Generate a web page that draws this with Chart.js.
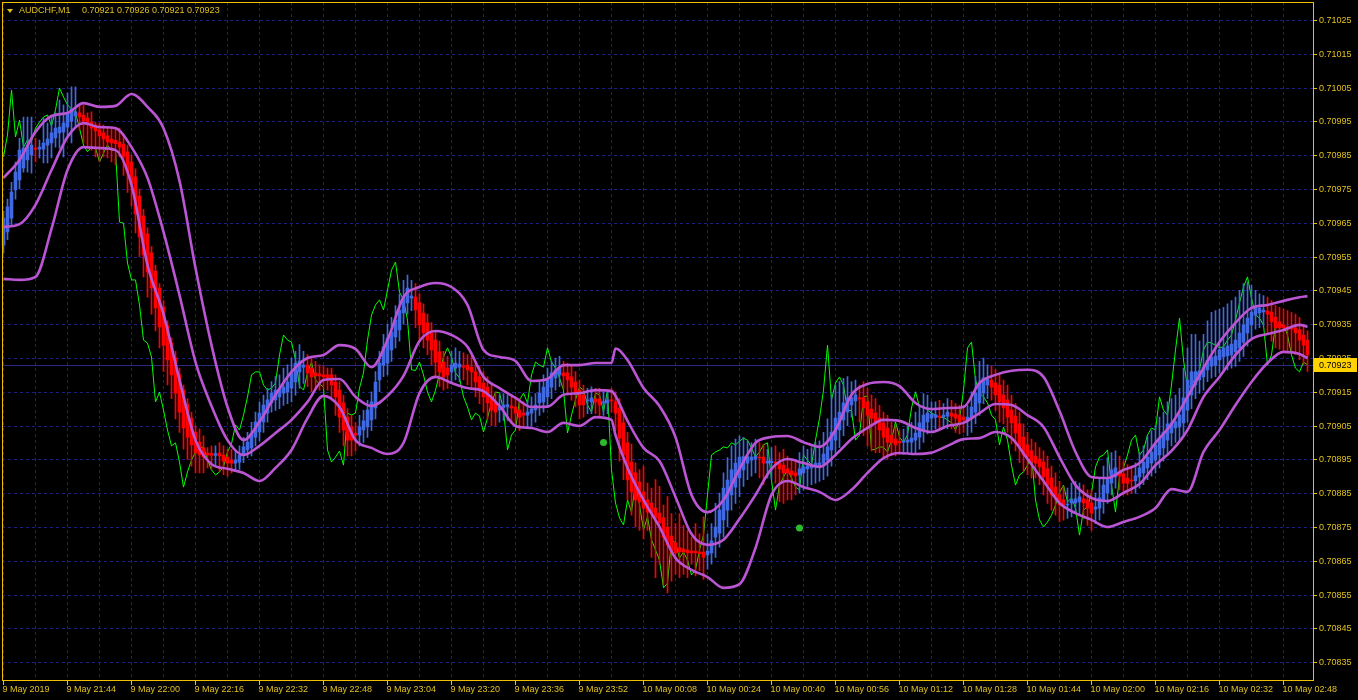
<!DOCTYPE html>
<html>
<head>
<meta charset="utf-8">
<title>AUDCHF,M1</title>
<script src="https://cdn.jsdelivr.net/npm/chart.js@4.4.1/dist/chart.umd.min.js"></script>
<style>
  html, body { margin: 0; padding: 0; background: #000; overflow: hidden; }
  #chart { display: block; }
</style>
</head>
<body>
<canvas id="chart" width="1358" height="700"></canvas>
<script>
// all prices are in points (0.00001), one entry per M1 bar starting 9 May 21:28
const symbol = 'AUDCHF,M1';
const lastBar = [70921, 70926, 70921, 70923]; // open high low close shown in the header
const lastPrice = 70923;

const tickLabels = [
  '9 May 2019', '9 May 21:44', '9 May 22:00', '9 May 22:16', '9 May 22:32', '9 May 22:48',
  '9 May 23:04', '9 May 23:20', '9 May 23:36', '9 May 23:52', '10 May 00:08', '10 May 00:24',
  '10 May 00:40', '10 May 00:56', '10 May 01:12', '10 May 01:28', '10 May 01:44', '10 May 02:00',
  '10 May 02:16', '10 May 02:32', '10 May 02:48'
];
const priceTicks = [
  70835, 70845, 70855, 70865, 70875, 70885, 70895, 70905, 70915, 70925,
  70935, 70945, 70955, 70965, 70975, 70985, 70995, 71005, 71015, 71025
];

// smoothed heiken ashi bars
const haOpen = [
  70958.4, 70962.3, 70966.4, 70974.7, 70977.7, 70981.2, 70983.6, 70985.1, 70987.1, 70986.8,
  70986.8, 70988.0, 70988.6, 70990.1, 70991.6, 70991.9, 70993.3, 70995.1, 70996.6, 70997.5,
  70996.9, 70996.0, 70994.8, 70993.9, 70992.5, 70991.6, 70990.7, 70989.8, 70989.4, 70988.9,
  70988.3, 70986.0, 70983.0, 70978.6, 70972.9, 70967.0, 70961.7, 70956.1, 70950.7, 70945.7,
  70940.1, 70934.5, 70929.4, 70925.0, 70920.0, 70915.5, 70911.4, 70907.2, 70903.1, 70900.1,
  70898.4, 70896.9, 70896.8, 70896.2, 70896.9, 70896.3, 70895.7, 70894.8, 70893.9, 70894.2,
  70896.3, 70897.8, 70898.4, 70901.6, 70903.1, 70906.1, 70908.7, 70911.7, 70912.6, 70913.5,
  70914.6, 70914.9, 70916.1, 70917.9, 70920.9, 70922.3, 70922.9, 70922.0, 70920.6, 70920.3,
  70920.0, 70920.0, 70920.0, 70917.9, 70915.5, 70911.7, 70907.5, 70904.6, 70902.8, 70902.2,
  70903.7, 70904.6, 70906.7, 70910.2, 70918.5, 70922.9, 70923.5, 70927.4, 70931.2, 70933.3,
  70938.3, 70941.3, 70942.7, 70943.0, 70941.3, 70938.3, 70935.4, 70932.4, 70930.3, 70926.8,
  70923.8, 70922.0, 70920.9, 70922.0, 70922.3, 70922.6, 70922.9, 70922.3, 70920.9, 70919.4,
  70917.6, 70916.4, 70913.5, 70911.7, 70909.6, 70910.2, 70910.5, 70910.8, 70910.5, 70909.6,
  70908.7, 70908.1, 70908.7, 70909.6, 70911.7, 70912.0, 70913.5, 70916.4, 70919.1, 70920.0,
  70920.6, 70920.6, 70919.4, 70917.9, 70915.5, 70914.1, 70912.3, 70912.0, 70912.9, 70912.9,
  70911.7, 70911.7, 70912.6, 70912.0, 70910.2, 70905.8, 70899.9, 70894.2, 70891.0, 70888.3,
  70885.4, 70883.0, 70882.1, 70880.6, 70879.1, 70877.7, 70875.0, 70872.3, 70870.3, 70868.8,
  70868.5, 70868.2, 70867.9, 70867.9, 70867.6, 70867.6, 70866.7, 70867.3, 70872.0, 70873.2,
  70877.1, 70880.0, 70884.5, 70886.8, 70889.5, 70891.9, 70893.9, 70894.8, 70895.1, 70895.7,
  70895.7, 70893.9, 70894.0, 70894.2, 70893.9, 70893.3, 70892.2, 70891.6, 70891.0, 70890.4,
  70891.0, 70892.2, 70892.5, 70892.8, 70893.0, 70893.9, 70894.8, 70897.8, 70900.7, 70903.7,
  70906.7, 70909.0, 70911.1, 70912.3, 70913.2, 70913.2, 70912.0, 70909.9, 70908.7, 70907.2,
  70905.8, 70904.3, 70902.2, 70901.0, 70900.4, 70900.1, 70900.1, 70900.1, 70900.7, 70901.6,
  70903.7, 70906.1, 70907.2, 70907.4, 70907.8, 70907.5, 70907.8, 70908.7, 70908.4, 70908.1,
  70907.5, 70906.4, 70907.2, 70909.0, 70911.7, 70914.6, 70917.0, 70918.5, 70917.6, 70917.0,
  70914.1, 70912.6, 70909.6, 70907.8, 70905.5, 70901.6, 70899.3, 70897.5, 70896.0, 70895.1,
  70894.2, 70892.2, 70889.5, 70886.8, 70884.5, 70883.0, 70881.5, 70882.1, 70882.1, 70882.4,
  70883.3, 70883.0, 70882.1, 70880.3, 70880.6, 70883.0, 70885.1, 70888.0, 70889.8, 70891.0,
  70890.7, 70889.5, 70888.9, 70888.6, 70889.8, 70891.0, 70892.5, 70893.9, 70894.8, 70896.3,
  70898.4, 70900.7, 70902.8, 70904.3, 70904.6, 70905.8, 70909.6, 70914.1, 70917.0, 70918.5,
  70919.4, 70921.5, 70922.6, 70922.9, 70924.4, 70925.3, 70925.6, 70925.9, 70926.8, 70928.0,
  70929.7, 70932.4, 70934.8, 70937.7, 70938.3, 70938.6, 70938.9, 70938.6, 70937.1, 70935.7,
  70934.8, 70934.2, 70934.2, 70933.9, 70933.3, 70931.8, 70930.3
];
const haClose = [
  70966.4, 70969.7, 70974.1, 70980.0, 70986.5, 70987.1, 70988.0, 70988.0, 70986.8, 70987.4,
  70988.6, 70989.8, 70991.6, 70993.0, 70993.3, 70994.5, 70997.5, 70998.7, 70997.8, 70996.3,
  70995.1, 70994.5, 70993.0, 70992.2, 70990.7, 70989.8, 70988.9, 70988.6, 70988.4, 70987.4,
  70984.5, 70980.0, 70976.5, 70967.6, 70960.8, 70955.5, 70950.4, 70945.7, 70939.8, 70934.2,
  70928.8, 70924.4, 70920.0, 70914.6, 70909.0, 70904.3, 70901.6, 70899.3, 70896.9, 70896.3,
  70895.7, 70896.3, 70896.2, 70896.7, 70896.0, 70894.5, 70893.9, 70893.9, 70894.8, 70896.3,
  70898.7, 70900.1, 70902.8, 70906.1, 70908.7, 70911.1, 70912.6, 70914.6, 70915.5, 70915.8,
  70916.4, 70917.9, 70920.6, 70923.5, 70924.1, 70922.9, 70920.6, 70919.4, 70919.7, 70919.7,
  70919.4, 70919.1, 70917.0, 70913.5, 70907.5, 70903.7, 70900.7, 70900.7, 70902.2, 70904.6,
  70906.4, 70909.6, 70912.0, 70917.9, 70923.5, 70928.3, 70930.9, 70932.7, 70936.2, 70939.2,
  70943.0, 70945.7, 70943.3, 70939.2, 70934.8, 70932.4, 70930.3, 70927.4, 70923.8, 70920.9,
  70919.4, 70920.0, 70922.9, 70923.5, 70923.2, 70922.3, 70921.5, 70920.9, 70917.9, 70916.1,
  70913.5, 70911.7, 70909.6, 70909.0, 70910.5, 70911.1, 70911.2, 70910.2, 70908.7, 70907.5,
  70908.1, 70909.0, 70909.9, 70911.1, 70914.6, 70916.4, 70918.5, 70920.6, 70921.5, 70922.0,
  70919.7, 70918.5, 70916.4, 70914.6, 70911.1, 70911.1, 70912.6, 70913.2, 70912.0, 70911.1,
  70912.0, 70912.6, 70912.3, 70908.7, 70901.3, 70896.3, 70888.9, 70885.4, 70883.0, 70882.4,
  70880.6, 70879.4, 70879.1, 70877.7, 70876.2, 70872.0, 70869.7, 70867.3, 70867.3, 70867.6,
  70867.6, 70867.3, 70867.3, 70867.4, 70867.1, 70866.1, 70867.9, 70870.9, 70875.0, 70880.0,
  70886.5, 70888.9, 70891.9, 70893.9, 70895.7, 70895.8, 70895.8, 70895.7, 70896.0, 70895.4,
  70893.9, 70894.5, 70894.5, 70893.9, 70892.2, 70891.0, 70891.0, 70890.4, 70890.1, 70892.2,
  70892.8, 70893.1, 70893.3, 70893.9, 70894.0, 70896.6, 70898.7, 70903.1, 70907.2, 70909.0,
  70911.7, 70913.2, 70913.3, 70914.1, 70912.9, 70910.2, 70908.1, 70907.2, 70906.1, 70903.7,
  70901.6, 70900.1, 70899.9, 70899.3, 70899.9, 70900.4, 70900.7, 70901.3, 70902.8, 70905.8,
  70908.1, 70908.7, 70908.4, 70908.2, 70907.5, 70908.1, 70909.0, 70907.8, 70907.2, 70906.1,
  70906.7, 70907.5, 70910.5, 70914.6, 70917.6, 70919.1, 70918.8, 70916.4, 70914.1, 70912.0,
  70910.2, 70907.5, 70905.8, 70902.8, 70898.7, 70896.3, 70895.7, 70894.2, 70893.9, 70892.8,
  70889.8, 70887.4, 70884.5, 70883.9, 70881.5, 70881.5, 70881.8, 70883.0, 70883.3, 70883.9,
  70882.1, 70880.6, 70879.1, 70880.9, 70883.6, 70887.4, 70889.5, 70891.9, 70892.5, 70890.1,
  70888.0, 70888.0, 70888.6, 70890.1, 70892.5, 70894.2, 70895.7, 70897.2, 70899.3, 70901.3,
  70903.1, 70905.5, 70905.8, 70906.1, 70908.1, 70913.2, 70918.5, 70920.9, 70921.0, 70921.2,
  70922.3, 70924.4, 70925.3, 70925.6, 70927.4, 70928.0, 70928.5, 70929.1, 70930.3, 70932.4,
  70934.8, 70936.8, 70938.6, 70940.1, 70939.8, 70939.2, 70938.0, 70935.7, 70933.9, 70933.9,
  70934.0, 70933.6, 70933.6, 70932.4, 70930.3, 70928.8, 70925.9
];
const haHigh = [
  70968.5, 70972, 70977, 70983, 70990, 70996.3, 70996.3, 70996.3, 70990, 70989.5,
  70996, 70994.5, 70996.3, 70997.5, 71001.3, 70999.9, 71003.4, 71005.2, 71005.2, 70999.9,
  70999.9, 70997.5, 70997.8, 70994.8, 70994.5, 70993.9, 70993.3, 70993.3, 70993.3, 70993,
  70991, 70988, 70985, 70981, 70975, 70969, 70963.5, 70958, 70952.5, 70947,
  70942, 70936, 70931, 70927, 70922, 70917, 70913, 70909, 70905, 70904,
  70902, 70898.5, 70899, 70899, 70900, 70899, 70898, 70898, 70897.5, 70899,
  70901.5, 70903, 70906, 70909, 70912, 70914, 70916, 70918, 70919.5, 70920,
  70922, 70923, 70925, 70927, 70929, 70927, 70926, 70925.5, 70924, 70923,
  70922.5, 70922, 70922, 70920, 70918, 70914, 70910, 70908, 70906, 70908,
  70909.5, 70912.5, 70915, 70921, 70927, 70932, 70935, 70937, 70940.5, 70944,
  70948, 70949.5, 70948, 70947, 70944, 70941, 70938, 70935.5, 70933, 70930,
  70927, 70925.5, 70927, 70928, 70927, 70926.5, 70926, 70925.5, 70924, 70922.5,
  70921, 70919.5, 70917, 70915, 70914, 70914.5, 70914, 70914, 70913.5, 70913,
  70912, 70912.5, 70913.5, 70914.5, 70918, 70920, 70922, 70924, 70925, 70925.5,
  70924, 70923.5, 70922.5, 70921, 70918.5, 70917, 70916, 70916.5, 70916, 70916,
  70915, 70915.5, 70916, 70915, 70913, 70909, 70903, 70899.5, 70894, 70892,
  70893, 70888, 70886.5, 70889, 70887, 70881.5, 70884, 70879, 70876, 70879,
  70875.5, 70874, 70872, 70876, 70873, 70878, 70873, 70876, 70882, 70885,
  70891, 70895.5, 70899, 70901, 70902, 70901.5, 70900.5, 70900, 70901, 70900,
  70899.5, 70898, 70898.5, 70899, 70897, 70898, 70896, 70895, 70894.5, 70897,
  70899, 70898, 70898.5, 70900, 70900.5, 70903, 70907, 70914, 70917, 70918,
  70919, 70919.5, 70918, 70918.5, 70917, 70918, 70916, 70914, 70913, 70911,
  70909, 70908, 70906, 70905, 70903.5, 70904, 70905, 70906, 70909, 70911,
  70914.5, 70914, 70912, 70912, 70912.5, 70911.5, 70913, 70912.5, 70911.5, 70911,
  70911, 70911, 70915, 70919.5, 70924, 70925, 70923, 70922.5, 70921.5, 70920.5,
  70918.5, 70917, 70914, 70911.5, 70909, 70905.5, 70903, 70901, 70900, 70898.5,
  70897.5, 70896, 70893, 70891, 70888.5, 70887, 70886.5, 70888, 70888.5, 70888,
  70887.5, 70886, 70886, 70885, 70889.5, 70893, 70895.5, 70897, 70897.5, 70896,
  70894.5, 70893.5, 70893, 70894, 70897, 70899, 70902, 70903.5, 70905, 70907.5,
  70909, 70912, 70913, 70914, 70916, 70922, 70928, 70932, 70932, 70930,
  70932, 70936, 70938.5, 70939, 70939.5, 70940, 70941, 70942, 70943, 70945,
  70947, 70947.5, 70946.5, 70945, 70944, 70943.5, 70943, 70942, 70940.5, 70940,
  70939.5, 70939, 70938.5, 70938, 70937, 70935, 70933
];
const haLow = [
  70956, 70960, 70964, 70972, 70975, 70980, 70980, 70979.7, 70983, 70984.2,
  70982.7, 70982.7, 70984.2, 70987.4, 70987.1, 70984.5, 70990.4, 70988.6, 70993, 70992.5,
  70988.6, 70987.4, 70986.5, 70984.5, 70983, 70984.5, 70984.2, 70983, 70982.1, 70984.5,
  70979, 70974, 70970, 70962, 70955, 70949, 70943, 70938, 70933, 70928,
  70921, 70917, 70913, 70907, 70903, 70898, 70895, 70893, 70891, 70891,
  70891, 70892.5, 70892, 70893, 70891.5, 70890.5, 70890, 70891, 70891.5, 70892,
  70894, 70895.5, 70896, 70899, 70900.5, 70903, 70906, 70909, 70909.5, 70910,
  70911, 70911.5, 70912, 70914, 70916, 70917.5, 70916.5, 70915, 70916, 70915.5,
  70916, 70915.5, 70912.5, 70908, 70903, 70899, 70896, 70896, 70897.5, 70899,
  70900, 70901.5, 70903.5, 70907, 70915, 70919.5, 70920, 70924, 70928, 70930,
  70935, 70938, 70939, 70934, 70930, 70928, 70926, 70923, 70919.5, 70916.5,
  70915.5, 70916, 70917.5, 70918.5, 70918, 70918.5, 70917, 70916, 70913.5, 70911.5,
  70909, 70907, 70905, 70905, 70906, 70906.5, 70906.5, 70906, 70905, 70903.5,
  70904.5, 70904.5, 70905, 70906, 70908, 70909, 70910.5, 70913, 70915.5, 70916.5,
  70916, 70914.5, 70912.5, 70910.5, 70907, 70907.5, 70908.5, 70908.5, 70908.5, 70907.5,
  70908, 70908.5, 70909, 70903.5, 70894.5, 70889, 70883, 70878.5, 70875, 70874,
  70871.5, 70874, 70866, 70860, 70864, 70858, 70855.5, 70859, 70861, 70860,
  70861, 70860, 70864, 70860.5, 70862, 70859.5, 70862.5, 70864, 70866, 70869,
  70872, 70875, 70880, 70882, 70884, 70887, 70889, 70890, 70891, 70889.5,
  70887.5, 70889.5, 70889, 70888, 70882.5, 70882, 70883, 70883, 70884.5, 70885,
  70886, 70887, 70887.5, 70888, 70888.5, 70889, 70890, 70893, 70896, 70898.5,
  70902, 70905, 70907.5, 70908, 70906, 70902, 70899, 70897.5, 70897, 70897,
  70895.5, 70895, 70896, 70896, 70896.5, 70896.5, 70897, 70896.5, 70897, 70898,
  70900, 70902.5, 70903.5, 70904, 70903.5, 70904, 70904, 70904, 70903, 70902.5,
  70903, 70902, 70903, 70905.5, 70908, 70911.5, 70913, 70912.5, 70909.5, 70906,
  70905.5, 70903, 70899.5, 70897.5, 70894, 70891.5, 70890.5, 70889.5, 70889.5, 70887.5,
  70884.5, 70882, 70880, 70878.5, 70876.5, 70877, 70877.5, 70878, 70879, 70878.5,
  70877.5, 70875.5, 70874, 70876, 70877, 70879, 70882, 70884.5, 70886.5, 70886,
  70884.5, 70884.5, 70885, 70885, 70886.5, 70887.5, 70889, 70890, 70891, 70892.5,
  70894.5, 70896.5, 70899, 70900, 70900.5, 70902, 70906, 70910, 70913, 70914.5,
  70915.5, 70918, 70919, 70919.5, 70920.5, 70921, 70921.5, 70922, 70922.5, 70924,
  70925.5, 70928.5, 70931, 70933.5, 70934, 70934.5, 70932.5, 70930, 70928, 70927.5,
  70927, 70926.5, 70926.5, 70926, 70924.5, 70923, 70921
];

// raw close line
const closeLine = [
  70984.5, 70991.0, 71004.3, 70990.4, 70995.4, 70987.4, 70989.5, 70989.2, 70993.0, 70994.8,
  70996.3, 70996.9, 70993.6, 70998.4, 71004.9, 71002.2, 70999.9, 70998.7, 70997.5, 70993.0,
  70988.0, 70986.0, 70987.4, 70987.2, 70983.0, 70985.6, 70988.0, 70986.5, 70986.5, 70965.2,
  70964.9, 70953.1, 70948.1, 70948.1, 70940.7, 70930.3, 70929.4, 70925.3, 70912.0, 70914.9,
  70909.6, 70903.7, 70899.0, 70899.9, 70894.2, 70886.8, 70891.3, 70894.8, 70897.2, 70898.4,
  70898.7, 70894.8, 70891.9, 70890.4, 70891.3, 70892.8, 70897.2, 70899.6, 70905.2, 70903.7,
  70908.1, 70913.5, 70920.0, 70920.9, 70920.9, 70917.0, 70915.5, 70916.1, 70917.6, 70925.9,
  70931.8, 70930.3, 70929.7, 70924.4, 70916.7, 70915.5, 70920.6, 70923.8, 70918.5, 70917.3,
  70916.4, 70897.8, 70894.2, 70895.7, 70897.5, 70893.3, 70908.7, 70908.1, 70908.7, 70916.1,
  70920.6, 70930.3, 70937.7, 70940.7, 70942.2, 70939.2, 70945.1, 70951.0, 70953.4, 70944.5,
  70942.2, 70936.2, 70921.5, 70921.3, 70923.8, 70920.0, 70914.9, 70912.0, 70915.5, 70920.3,
  70925.3, 70928.0, 70925.3, 70920.6, 70919.1, 70913.5, 70910.5, 70906.7, 70908.7, 70907.8,
  70903.1, 70907.2, 70912.0, 70914.9, 70914.7, 70909.6, 70897.8, 70902.2, 70903.7, 70912.6,
  70914.6, 70911.7, 70920.0, 70923.8, 70922.9, 70922.3, 70928.0, 70923.8, 70922.0, 70919.1,
  70915.5, 70902.8, 70908.1, 70912.6, 70916.4, 70915.5, 70911.1, 70909.0, 70914.6, 70914.1,
  70909.0, 70915.5, 70891.9, 70882.1, 70877.7, 70875.6, 70883.0, 70879.4, 70888.0, 70881.5,
  70874.1, 70878.0, 70871.2, 70868.2, 70865.2, 70857.0, 70858.4, 70871.2, 70870.3, 70865.8,
  70867.6, 70865.2, 70860.8, 70862.3, 70868.2, 70872.6, 70884.5, 70896.3, 70897.2, 70897.8,
  70898.7, 70898.4, 70899.9, 70899.3, 70900.4, 70901.3, 70900.7, 70898.4, 70895.7, 70897.2,
  70899.3, 70899.9, 70888.9, 70880.0, 70887.4, 70889.8, 70891.9, 70889.5, 70886.8, 70886.0,
  70896.3, 70894.8, 70893.3, 70900.7, 70907.2, 70915.5, 70928.8, 70912.6, 70917.6, 70919.4,
  70917.0, 70909.6, 70909.4, 70900.7, 70902.2, 70913.5, 70913.8, 70897.8, 70898.0, 70898.7,
  70898.6, 70897.2, 70900.7, 70906.1, 70901.6, 70900.1, 70902.2, 70910.2, 70915.0, 70910.5,
  70910.8, 70909.6, 70908.7, 70908.1, 70907.5, 70907.4, 70906.7, 70905.8, 70903.7, 70906.7,
  70915.5, 70928.0, 70929.7, 70918.5, 70914.6, 70913.5, 70911.7, 70908.1, 70906.7, 70899.3,
  70904.6, 70900.7, 70893.3, 70887.4, 70890.4, 70891.3, 70893.3, 70896.3, 70883.0, 70877.1,
  70875.0, 70876.5, 70878.5, 70881.5, 70885.1, 70887.4, 70882.4, 70883.6, 70880.6, 70872.6,
  70880.0, 70880.9, 70885.1, 70892.8, 70895.7, 70896.3, 70897.8, 70887.4, 70879.4, 70889.8,
  70892.5, 70896.3, 70900.7, 70902.2, 70896.3, 70897.8, 70902.2, 70904.3, 70903.7, 70913.5,
  70909.6, 70908.1, 70917.0, 70927.4, 70936.8, 70924.4, 70916.1, 70917.0, 70919.1, 70921.5,
  70927.4, 70929.7, 70929.4, 70928.8, 70928.0, 70928.3, 70930.3, 70931.8, 70936.2, 70941.3,
  70946.0, 70949.0, 70942.7, 70937.7, 70936.8, 70934.8, 70922.9, 70925.9, 70934.8, 70934.6,
  70934.8, 70931.8, 70925.9, 70922.0, 70920.9, 70923.8, 70923.0
];

// envelope bands, read at these bars
const bandBars = [
  0, 4, 8, 12, 16, 20, 24, 28, 32, 36, 40, 44, 48, 52, 56, 60, 64, 68, 72, 76,
  80, 84, 88, 92, 96, 100, 104, 108, 112, 116, 120, 124, 128, 132, 136, 140, 144, 148, 152, 153,
  156, 160, 164, 168, 172, 176, 180, 184, 188, 192, 196, 200, 204, 208, 212, 216, 220, 224, 228, 232,
  236, 240, 244, 248, 252, 256, 260, 264, 268, 272, 276, 280, 284, 288, 292, 296, 300, 304, 308, 312,
  316, 320, 324, 326
];
const bandUpper = [
  70978.3, 70983.6, 70991.9, 70996.6, 70997.5, 71000.4, 70999.3, 70999.6, 71003.1, 70999.3,
  70993.0, 70977.4, 70951.6, 70928.8, 70910.5, 70900.7, 70906.1, 70914.1, 70920.9, 70925.0,
  70925.9, 70928.8, 70927.7, 70922.3, 70930.3, 70943.0, 70946.0, 70947.2, 70946.0, 70940.7,
  70927.4, 70925.3, 70924.1, 70918.2, 70918.8, 70922.9, 70922.9, 70923.5, 70923.5, 70927.8,
  70924.4, 70916.1, 70910.8, 70901.6, 70884.5, 70879.4, 70883.0, 70892.2, 70899.9, 70901.6,
  70901.9, 70900.1, 70898.7, 70903.7, 70914.1, 70917.3, 70917.9, 70916.7, 70911.7, 70909.9,
  70910.2, 70910.5, 70917.6, 70920.0, 70921.2, 70921.5, 70919.4, 70909.3, 70897.2, 70889.8,
  70889.5, 70891.9, 70893.9, 70899.9, 70905.5, 70913.5, 70922.0, 70929.7, 70935.4, 70939.8,
  70940.7, 70941.9, 70943.0, 70943.3
];
const bandMid = [
  70963.8, 70964.6, 70970.3, 70980.6, 70990.4, 70994.5, 70993.3, 70993.0, 70987.4, 70978.3,
  70962.3, 70943.6, 70923.8, 70910.8, 70900.7, 70896.3, 70899.0, 70902.8, 70906.7, 70912.0,
  70918.5, 70918.8, 70913.5, 70910.8, 70913.8, 70919.7, 70930.0, 70933.0, 70931.8, 70928.3,
  70919.4, 70916.1, 70913.2, 70910.5, 70910.6, 70914.1, 70914.6, 70915.5, 70915.2, 70913.8,
  70906.4, 70898.4, 70894.5, 70883.9, 70872.9, 70869.7, 70871.2, 70877.4, 70884.5, 70892.2,
  70895.1, 70893.9, 70892.8, 70896.3, 70901.0, 70904.3, 70906.7, 70906.4, 70904.3, 70903.1,
  70904.9, 70905.8, 70908.7, 70911.4, 70911.1, 70908.1, 70904.6, 70895.7, 70887.4, 70883.6,
  70882.7, 70885.1, 70887.7, 70893.3, 70897.5, 70903.7, 70913.5, 70919.4, 70925.9, 70930.6,
  70932.1, 70933.3, 70934.8, 70934.2
];
const bandLower = [
  70948.4, 70948.1, 70949.0, 70963.2, 70980.6, 70987.4, 70987.1, 70986.5, 70976.2, 70952.5,
  70938.0, 70918.5, 70900.7, 70893.6, 70892.2, 70891.0, 70888.6, 70892.5, 70897.8, 70907.2,
  70913.8, 70910.5, 70900.7, 70898.4, 70896.6, 70899.9, 70914.6, 70919.4, 70917.6, 70916.1,
  70915.2, 70910.8, 70904.9, 70904.3, 70903.1, 70905.8, 70904.9, 70907.5, 70906.7, 70902.2,
  70892.5, 70883.0, 70875.0, 70865.8, 70862.3, 70860.2, 70857.0, 70858.1, 70868.8, 70884.5,
  70888.6, 70886.8, 70885.4, 70883.0, 70886.0, 70891.0, 70895.4, 70896.9, 70896.6, 70897.0,
  70899.0, 70901.0, 70901.3, 70903.1, 70901.3, 70895.1, 70888.6, 70882.1, 70879.1, 70877.1,
  70875.0, 70876.5, 70878.0, 70880.6, 70886.2, 70885.4, 70897.2, 70903.7, 70911.1, 70917.9,
  70923.5, 70926.8, 70926.2, 70925.0
];

// signal dots: bar index and price
const dotBars = [150, 199];
const dotPrices = [70900.0, 70874.7];

const nBars = haClose.length;

function spread(bars, vals) {
  const out = new Array(nBars).fill(null);
  bars.forEach((b, k) => { out[b] = vals[k]; });
  return out;
}

const BLUE = '#4169e1';
const RED = '#ff0000';
const barColors = haClose.map((c, i) => c >= haOpen[i] ? BLUE : RED);

const GRID = '#1f1f80';
const AXIS = '#e0c020';
const FRAME = '#f0c000';
const FONT = '9px "Liberation Sans"';

const mtPlugin = {
  id: 'mt',
  beforeDatasetsDraw(chart) {
    const { ctx, scales: { x, y } } = chart;
    const fl = 2, ft = 2, fr = 1313, fb = 680;
    ctx.save();
    ctx.strokeStyle = GRID;
    ctx.lineWidth = 1;
    ctx.setLineDash([3, 3]);
    ctx.beginPath();
    priceTicks.forEach(p => {
      const py = Math.round(y.getPixelForValue(p)) + 0.5;
      ctx.moveTo(fl, py); ctx.lineTo(fr, py);
    });
    for (let i = 0; i < nBars; i += 8) {
      const px = Math.floor(x.getPixelForValue(i)) + 0.5;
      ctx.moveTo(px, ft); ctx.lineTo(px, fb);
    }
    ctx.stroke();
    ctx.setLineDash([]);
    // bid line
    const ly = Math.round(y.getPixelForValue(lastPrice)) + 0.5;
    ctx.strokeStyle = '#2a2a86';
    ctx.beginPath(); ctx.moveTo(fl, ly); ctx.lineTo(fr, ly); ctx.stroke();
    ctx.restore();
  },
  afterDraw(chart) {
    const { ctx, scales: { x, y } } = chart;
    const fl = 2, ft = 2, fr = 1313, fb = 680;
    ctx.save();
    // frame
    ctx.strokeStyle = FRAME;
    ctx.lineWidth = 1;
    ctx.strokeRect(fl + 0.5, ft + 0.5, fr - fl, fb - ft);
    ctx.font = FONT;
    ctx.fillStyle = AXIS;
    // price axis
    ctx.textAlign = 'left';
    ctx.textBaseline = 'middle';
    priceTicks.forEach(p => {
      const py = Math.round(y.getPixelForValue(p)) + 0.5;
      ctx.beginPath(); ctx.moveTo(fr, py); ctx.lineTo(fr + 4, py); ctx.stroke();
      ctx.fillText((p / 1e5).toFixed(5), fr + 6, py);
    });
    // time axis
    ctx.textBaseline = 'top';
    tickLabels.forEach((t, k) => {
      const px = Math.floor(x.getPixelForValue(k * 16)) + 0.5;
      ctx.beginPath(); ctx.moveTo(px, fb); ctx.lineTo(px, fb + 5); ctx.stroke();
      ctx.fillText(t, px - 1, fb + 5);
    });
    // current price box
    const ly = Math.round(y.getPixelForValue(lastPrice));
    ctx.fillStyle = '#ffd200';
    ctx.fillRect(fr + 1, ly - 7, 43, 14);
    ctx.fillStyle = '#000';
    ctx.textBaseline = 'middle';
    ctx.fillText((lastPrice / 1e5).toFixed(5), fr + 6, ly + 0.5);
    // header
    ctx.fillStyle = AXIS;
    ctx.beginPath(); ctx.moveTo(7, 9); ctx.lineTo(13, 9); ctx.lineTo(10, 13); ctx.closePath(); ctx.fill();
    ctx.fillText(symbol, 19, 11);
    ctx.fillText(lastBar.map(v => (v / 1e5).toFixed(5)).join(' '), 82, 11);
    ctx.restore();
  }
};

new Chart(document.getElementById('chart'), {
  type: 'bar',
  data: {
    labels: haClose.map((v, i) => i),
    datasets: [
      {
        type: 'line', label: 'close', data: closeLine, order: 6,
        borderColor: '#00ff00', borderWidth: 1, pointRadius: 0, tension: 0
      },
      {
        label: 'wick', data: haLow.map((l, i) => [l, haHigh[i]]), order: 5,
        backgroundColor: barColors, barThickness: 1, grouped: false, borderWidth: 0
      },
      {
        label: 'body', data: haOpen.map((o, i) => [o, haClose[i]]), order: 4,
        backgroundColor: barColors, barThickness: 3, grouped: false, borderWidth: 0
      },
      {
        type: 'line', label: 'upper', data: spread(bandBars, bandUpper), order: 3, spanGaps: true,
        borderColor: '#ba55d3', borderWidth: 2.6, pointRadius: 0, cubicInterpolationMode: 'monotone'
      },
      {
        type: 'line', label: 'middle', data: spread(bandBars, bandMid), order: 3, spanGaps: true,
        borderColor: '#ba55d3', borderWidth: 2.6, pointRadius: 0, cubicInterpolationMode: 'monotone'
      },
      {
        type: 'line', label: 'lower', data: spread(bandBars, bandLower), order: 3, spanGaps: true,
        borderColor: '#ba55d3', borderWidth: 2.6, pointRadius: 0, cubicInterpolationMode: 'monotone'
      },
      {
        type: 'line', label: 'signal', data: spread(dotBars, dotPrices), order: 1, showLine: false,
        pointRadius: 3.5, pointBackgroundColor: '#2dbb2d', pointBorderWidth: 0
      }
    ]
  },
  options: {
    responsive: false,
    devicePixelRatio: 1,
    animation: false,
    events: [],
    layout: { autoPadding: false, padding: { left: 1.5, right: 48.5, top: 3, bottom: 20 } },
    scales: {
      x: { display: false },
      y: { display: false, min: 70829.73, max: 71030.03 }
    },
    plugins: { legend: { display: false }, tooltip: { enabled: false } }
  },
  plugins: [mtPlugin]
});
</script>
</body>
</html>
